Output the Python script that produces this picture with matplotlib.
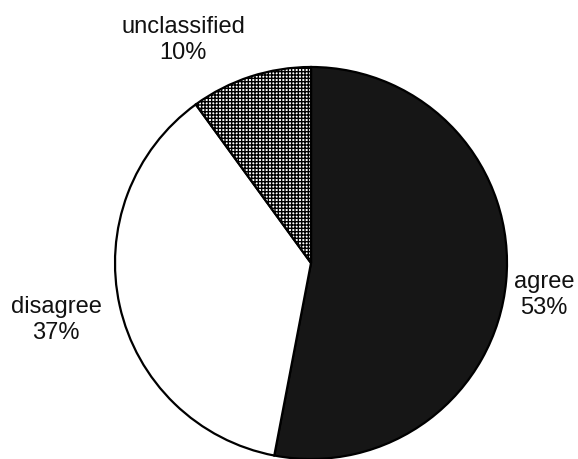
import matplotlib.pyplot as plt

plt.rcParams['font.family'] = ['Liberation Sans', 'DejaVu Sans']
plt.rcParams['hatch.linewidth'] = 1.0

# Данные диаграммы
labels = ['agree', 'disagree', 'unclassified']
shares = [53, 37, 10]
colors = ['#161616', 'white', 'white']
hatches = ['', '', '+++++']

# Положения подписей (в пикселях, y сверху)
label_pos = [(544, 295), (56, 320), (183, 40)]

W, H = 578, 460
fig = plt.figure(figsize=(W / 100, H / 100), dpi=100)
ax = fig.add_axes([0, 0, 1, 1])
ax.set_xlim(0, W)
ax.set_ylim(0, H)
ax.set_aspect('equal')
ax.axis('off')

wedges, _ = ax.pie(shares, colors=colors, startangle=90, counterclock=False,
                   center=(311, H - 264), radius=196,
                   wedgeprops=dict(edgecolor='black', linewidth=1.6))
for w, h in zip(wedges, hatches):
    w.set_hatch(h)

for lab, val, (x, y) in zip(labels, shares, label_pos):
    ax.text(x, H - y, f'{lab}\n{val}%', ha='center', va='center',
            fontsize=17, linespacing=1.2, color='#111111')

ax.set_xlim(0, W)
ax.set_ylim(0, H)
fig.savefig('out.png', dpi=100)
